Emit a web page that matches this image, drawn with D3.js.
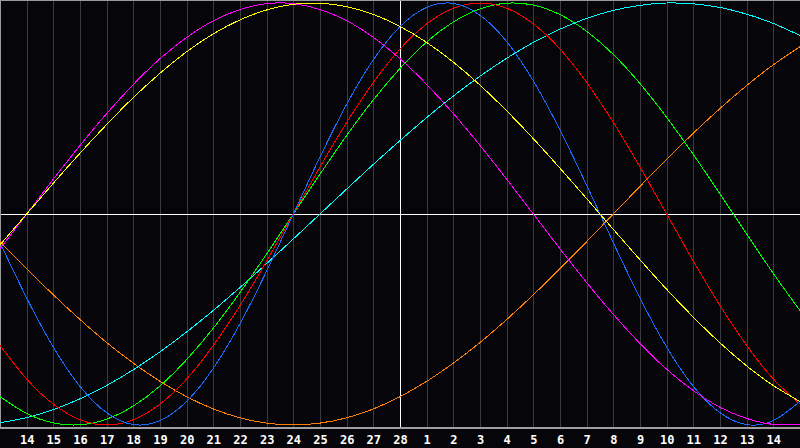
<!DOCTYPE html>
<html>
<head>
<meta charset="utf-8">
<script src="https://cdn.jsdelivr.net/npm/d3@7/dist/d3.min.js"></script>
<style>
html,body{margin:0;padding:0;background:#060509;overflow:hidden;}
svg{display:block;}
</style>
</head>
<body>
<svg id="chart" width="800" height="448"></svg>
<script>
// Day labels along the bottom (gridline positions 1..29)
const dayLabels = ["14","15","16","17","18","19","20","21","22","23","24","25","26","27","28",
                   "1","2","3","4","5","6","7","8","9","10","11","12","13","14"];
// day index 0..30 (x=0 .. x=800)
const physical = [-0.136,-0.398,-0.631,-0.817,-0.942,-0.998,-0.979,-0.888,-0.731,-0.520,-0.270,0,0.270,0.520,0.731,0.888,0.979,0.998,0.942,0.817,0.631,0.398,0.136,-0.136,-0.398,-0.631,-0.817,-0.942,-0.998,-0.979,-0.888];
const emotional = [-0.623,-0.782,-0.901,-0.975,-1,-0.975,-0.901,-0.782,-0.623,-0.434,-0.223,0,0.223,0.434,0.623,0.782,0.901,0.975,1,0.975,0.901,0.782,0.623,0.434,0.223,0,-0.223,-0.434,-0.623,-0.782,-0.901];
const intellectual = [-0.866,-0.945,-0.990,-0.999,-0.972,-0.910,-0.815,-0.690,-0.541,-0.372,-0.189,0,0.189,0.372,0.541,0.690,0.815,0.910,0.972,0.999,0.990,0.945,0.866,0.756,0.618,0.458,0.282,0.095,-0.095,-0.282,-0.458];
const spiritual = [-0.989,-0.965,-0.927,-0.876,-0.813,-0.738,-0.653,-0.559,-0.457,-0.348,-0.235,-0.118,0,0.118,0.235,0.348,0.457,0.559,0.653,0.738,0.813,0.876,0.927,0.965,0.989,1.000,0.996,0.979,0.947,0.903,0.846];
const intuitive = [-0.165,0,0.165,0.325,0.476,0.614,0.736,0.837,0.916,0.969,0.997,0.997,0.969,0.916,0.837,0.736,0.614,0.476,0.325,0.165,0,-0.165,-0.325,-0.476,-0.614,-0.736,-0.837,-0.916,-0.969,-0.997,-0.997];
const aesthetic = [-0.146,0,0.146,0.288,0.424,0.552,0.667,0.769,0.854,0.920,0.967,0.994,0.999,0.983,0.946,0.889,0.813,0.720,0.611,0.489,0.357,0.217,0.073,-0.073,-0.217,-0.357,-0.489,-0.611,-0.720,-0.813,-0.889];
const awareness = [-0.131,-0.259,-0.383,-0.5,-0.609,-0.707,-0.793,-0.866,-0.924,-0.966,-0.991,-1,-0.991,-0.966,-0.924,-0.866,-0.793,-0.707,-0.609,-0.5,-0.383,-0.259,-0.131,0,0.131,0.259,0.383,0.5,0.609,0.707,0.793];

const seriesNames = ["awareness","spiritual","intellectual","emotional","physical","intuitive","aesthetic"];
const seriesValues = [awareness, spiritual, intellectual, emotional, physical, intuitive, aesthetic];
const seriesColors = ["#ff8000","#00ffff","#00ff00","#ff0000","#1a6cff","#ff00ff","#ffff00"];

const W = 800, H = 448, plotBottom = 428;
const svg = d3.select("#chart");
const x = d3.scaleLinear().domain([0, 30]).range([0, W]);
const y = d3.scaleLinear().domain([-1, 1]).range([425, 3]);

svg.append("rect").attr("width", W).attr("height", H).attr("fill", "#060509");

// vertical gridlines
const grid = svg.append("g");
grid.selectAll("line").data(d3.range(1, 30)).join("line")
  .attr("x1", d => Math.round(x(d)) + 0.5).attr("x2", d => Math.round(x(d)) + 0.5)
  .attr("y1", 0).attr("y2", plotBottom)
  .attr("stroke", d => d === 15 ? "#ffffff" : "#3c3c40")
  .attr("stroke-width", 1);

// horizontal zero line
svg.append("line")
  .attr("x1", 0).attr("x2", W)
  .attr("y1", Math.round(y(0)) + 0.5).attr("y2", Math.round(y(0)) + 0.5)
  .attr("stroke", "#ffffff").attr("stroke-width", 1);

// frame (top, left)
svg.append("line").attr("x1", 0).attr("x2", W).attr("y1", 0.5).attr("y2", 0.5).attr("stroke", "#9a9a9a");
svg.append("line").attr("x1", 0.5).attr("x2", 0.5).attr("y1", 0).attr("y2", plotBottom).attr("stroke", "#9a9a9a");

// curves
const line = d3.line().x((d, i) => x(i)).y(d => y(d)).curve(d3.curveNatural);
const curves = svg.append("g");
seriesValues.forEach((vals, k) => {
  curves.append("path")
    .datum(vals)
    .attr("d", line)
    .attr("fill", "none")
    .attr("stroke", seriesColors[k])
    .attr("stroke-width", 1)
    .attr("shape-rendering", "crispEdges")
    .attr("class", seriesNames[k]);
});

// bottom axis
const axis = d3.axisBottom(x)
  .tickValues(d3.range(1, 30))
  .tickFormat(d => dayLabels[d - 1])
  .tickSize(0)
  .tickPadding(7);
const ax = svg.append("g").attr("transform", `translate(0,${plotBottom})`).call(axis);
ax.select(".domain").attr("stroke", "#a0a0a0").attr("stroke-width", 2).attr("d", `M0,0H${W}`);
ax.selectAll("text")
  .attr("fill", "#ffffff")
  .attr("font-family", "'DejaVu Sans Mono', monospace")
  .attr("font-weight", "bold")
  .attr("font-size", "12px");
</script>
</body>
</html>
